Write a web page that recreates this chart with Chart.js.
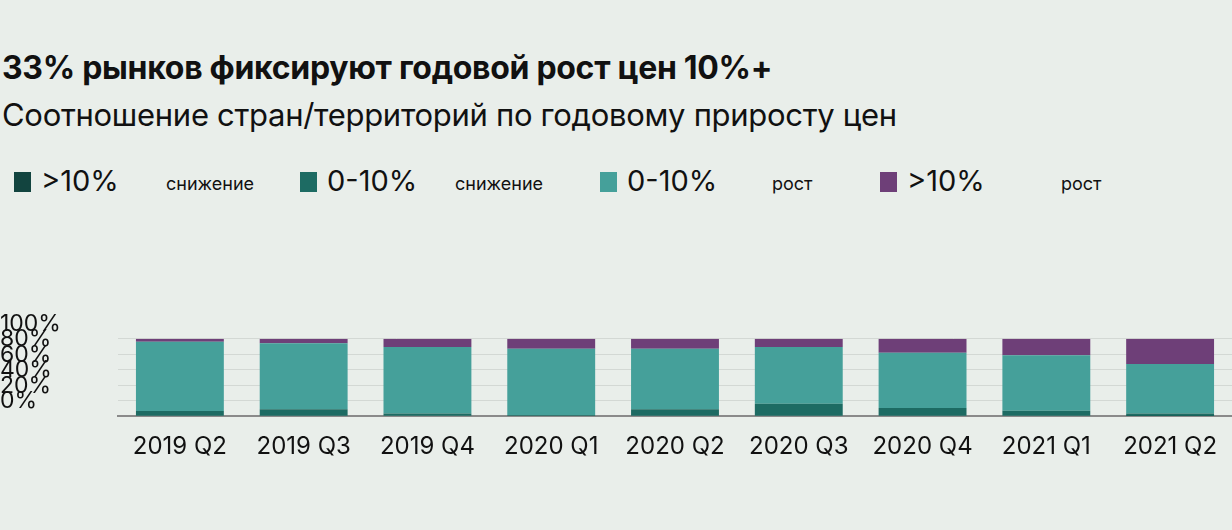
<!DOCTYPE html>
<html><head><meta charset="utf-8">
<script src="https://cdn.jsdelivr.net/npm/chart.js@4"></script>
<style>
body{margin:0;background:#e9eeea;width:1232px;height:530px;overflow:hidden;font-family:Inter,"Noto Sans",sans-serif;position:relative;color:#111}
.t{position:absolute;left:2px;white-space:nowrap;letter-spacing:-0.3px}
#title{top:48px;font-size:32px;font-weight:700}
#sub{top:96px;font-size:31px}
#legend{position:absolute;top:163px;left:14px;font-size:29px}
#legend span{position:absolute;white-space:nowrap}
.sw{display:inline-block;width:17px;height:20px;margin-right:10px;vertical-align:-1px}
.sm{font-size:18px}
#c{position:absolute;left:0;top:225px}
</style></head><body>
<div class="t" id="title">33% рынков фиксируют годовой рост цен 10%+</div>
<div class="t" id="sub">Соотношение стран/территорий по годовому приросту цен</div>
<div id="legend">
<span style="left:0"><i class="sw" style="background:#12443f"></i>&gt;10%</span>
<span class="sm" style="left:152px;top:10px">снижение</span>
<span style="left:286px"><i class="sw" style="background:#1d6b63"></i>0-10%</span>
<span class="sm" style="left:441px;top:10px">снижение</span>
<span style="left:586px"><i class="sw" style="background:#45a09a"></i>0-10%</span>
<span class="sm" style="left:758px;top:10px">рост</span>
<span style="left:866px"><i class="sw" style="background:#6e3f78"></i>&gt;10%</span>
<span class="sm" style="left:1047px;top:10px">рост</span>
</div>
<canvas id="c" width="1232" height="305"></canvas>
<script>
const quarters = ['2019 Q2','2019 Q3','2019 Q4','2020 Q1','2020 Q2','2020 Q3','2020 Q4','2021 Q1','2021 Q2'];
const fallBig = [0, 0, 0, 0, 0, 0, 0, 0, 0.4];
const fallSmall = [6.8, 9, 3.4, 1.7, 9, 16, 10.5, 7, 3.1];
const riseBig = [3.8, 5.6, 10.7, 12.8, 12.8, 10.7, 18, 21.4, 32.5];
const riseSmall = riseBig.map((v, i) => 100 - v - fallSmall[i] - fallBig[i]);
const yTicks = [0, 20, 40, 60, 80, 100];

new Chart(document.getElementById('c'), {
    type: 'bar',
    data: {
        labels: quarters,
        datasets: [
            { data: fallBig, backgroundColor: '#12443f' },
            { data: fallSmall, backgroundColor: '#1d6b63' },
            { data: riseSmall, backgroundColor: '#45a09a' },
            { data: riseBig, backgroundColor: '#6e3f78' }
        ]
    },
    options: {
        responsive: false,
        animation: false,
        layout: { padding: { top: 30, right: 0, bottom: 0 } },
        plugins: { legend: { display: false }, tooltip: { enabled: false } },
        datasets: { bar: { categoryPercentage: 0.71, barPercentage: 1 } },
        scales: {
            x: {
                stacked: true,
                grid: { display: false },
                border: { color: '#8a8a8a', width: 2 },
                ticks: { color: '#111', font: { family: 'Inter', size: 24 }, padding: 8, maxRotation: 0 },
                afterFit: s => { s.height = 41; }
            },
            y: {
                stacked: true,
                min: 0, max: 100,
                afterBuildTicks: s => { s.ticks = yTicks.map(v => ({ value: v })); },
                afterFit: s => { s.width = 118; },
                border: { display: false },
                grid: { color: '#d3d8d4', drawTicks: false },
                ticks: {
                    callback: v => v + '%',
                    color: '#111',
                    font: { family: 'Inter', size: 23 },
                    crossAlign: 'far',
                    padding: 100,
                    labelOffset: -15
                }
            }
        }
    }
});
</script>
</body></html>
